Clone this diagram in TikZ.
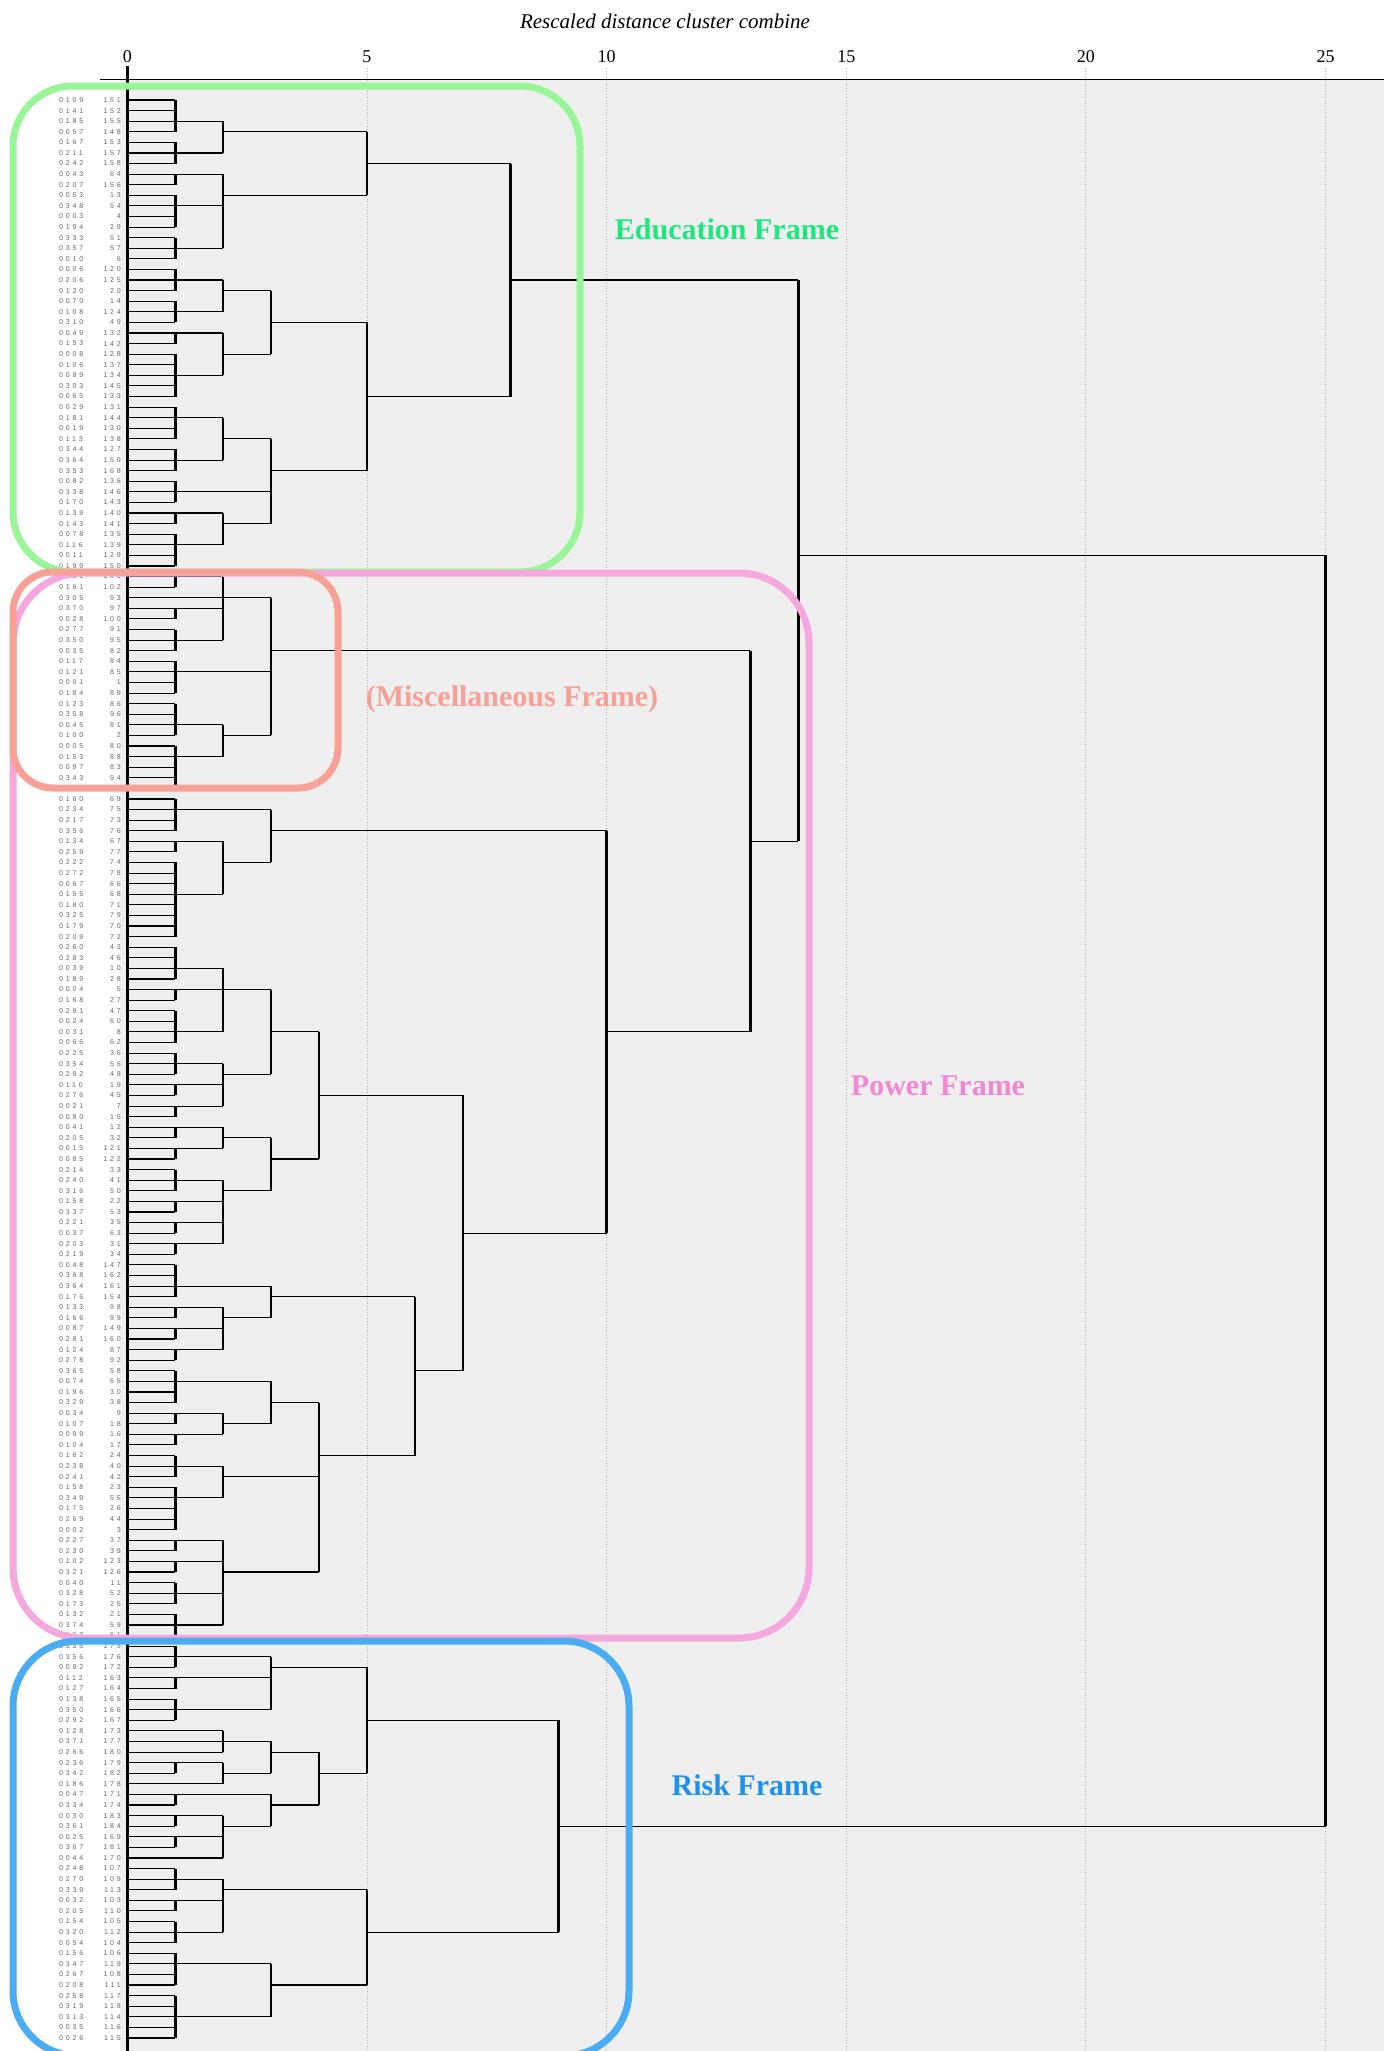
\documentclass[tikz,border=0pt]{standalone}
\usepackage{fontspec}
\setmainfont{Liberation Serif}
\newfontfamily\leaffont[LetterSpace=40]{Liberation Sans}
\definecolor{bgcol}{RGB}{239,239,239}
\definecolor{edgreen}{RGB}{152,245,152}
\definecolor{edtext}{RGB}{30,232,125}
\definecolor{misccol}{RGB}{247,160,150}
\definecolor{powcol}{RGB}{245,168,222}
\definecolor{powtext}{RGB}{243,135,213}
\definecolor{riskcol}{RGB}{74,172,242}
\definecolor{risktext}{RGB}{30,144,240}
\newcommand\dgGroup[3]{%
  \foreach \rr in {#1,...,#2}{\draw[hl] ({X(0)},{Y(\rr)}) -- ({X(#3)},{Y(\rr)});}
  \draw[vl] ({X(#3)},{Y(#1)}) -- ({X(#3)},{Y(#2)});}
\newcommand\dgBar[3]{\draw[vl] ({X(#1)},{Y(#2)}) -- ({X(#1)},{Y(#3)});}
\newcommand\dgLine[3]{\draw[hl] ({X(#2)},{Y(#1)}) -- ({X(#3)},{Y(#1)});}
\begin{document}
\begin{tikzpicture}[x=1pt,y=-1pt,
  declare function={X(\d)=127.3+47.93*\d; Y(\r)=100+(\r-1)*10.59;},
  hl/.style={line width=1.1pt, black},
  vl/.style={line width=2.6pt, black},
  lbl/.style={font=\leaffont\fontsize{7}{8}\selectfont, text=black!60, inner sep=0pt},
  axnum/.style={font=\fontsize{18}{20}\selectfont, inner sep=0pt},
  gridl/.style={black!30, line width=0.9pt, dotted},
  frame/.style={line width=7pt, rounded corners=#1},
  ftxt/.style={font=\fontsize{30}{32}\selectfont\bfseries, inner sep=0pt},
]
\useasboundingbox (0,0) rectangle (1391,2051);
\fill[white] (0,0) rectangle (1391,2051);
\fill[bgcol] (120,79) rectangle (1384,2051);
% title and axis
\node[font=\fontsize{21}{23}\selectfont\itshape, inner sep=0pt] (title) at (665,21) {Rescaled distance cluster combine};
\foreach \k in {5,10,15,20,25}{\draw[gridl] ({X(\k)},68) -- ({X(\k)},2051);}
\foreach \k in {0,5,10,15,20,25}{\node[axnum] (tick\k) at ({X(\k)},57) {\k};}
\draw[line width=1pt] (100,79) -- (1384,79);
\draw[line width=3pt] ({X(0)},66) -- ({X(0)},2051);
% leaves
\foreach \r/\c/\n in {1/0109/151,2/0141/152,3/0185/155,4/0057/148,5/0167/153,6/0211/157,7/0242/158,8/0043/64,9/0207/156,10/0053/13,
11/0348/54,12/0003/4,13/0194/29,14/0333/51,15/0357/57,16/0010/6,17/0006/120,18/0206/125,19/0120/20,20/0070/14,
21/0108/124,22/0310/49,23/0049/132,24/0153/142,25/0008/128,26/0106/137,27/0089/134,28/0303/145,29/0065/133,30/0029/131,
31/0181/144,32/0019/130,33/0113/138,34/0344/127,35/0364/159,36/0353/168,37/0082/136,38/0338/146,39/0170/143,40/0139/140,
41/0143/141,42/0078/135,43/0116/139,44/0011/129,45/0199/150,46/0131/101,47/0161/102,48/0305/93,49/0370/97,50/0028/100,
51/0277/91,52/0350/95,53/0035/82,54/0117/84,55/0121/85,56/0001/1,57/0184/89,58/0123/86,59/0358/96,60/0045/81,
61/0100/2,62/0005/80,63/0153/88,64/0097/83,65/0343/94,66/0239/90,67/0160/69,68/0234/75,69/0217/73,70/0356/76,
71/0134/67,72/0259/77,73/0222/74,74/0272/78,75/0067/66,76/0155/68,77/0180/71,78/0325/79,79/0179/70,80/0209/72,
81/0260/43,82/0283/46,83/0039/10,84/0189/28,85/0004/5,86/0168/27,87/0291/47,88/0024/60,89/0031/8,90/0066/62,
91/0225/36,92/0354/56,93/0292/48,94/0110/19,95/0276/45,96/0021/7,97/0080/15,98/0041/12,99/0205/32,100/0015/121,
101/0085/122,102/0214/33,103/0240/41,104/0316/50,105/0158/22,106/0337/53,107/0221/35,108/0037/63,109/0203/31,110/0219/34,
111/0048/147,112/0368/162,113/0364/161,114/0176/154,115/0133/98,116/0166/99,117/0087/149,118/0281/160,119/0124/87,120/0278/92,
121/0365/58,122/0074/65,123/0196/30,124/0329/38,125/0034/9,126/0107/18,127/0099/16,128/0104/17,129/0162/24,130/0238/40,
131/0241/42,132/0158/23,133/0349/55,134/0175/26,135/0269/44,136/0002/3,137/0227/37,138/0230/39,139/0102/123,140/0321/126,
141/0040/11,142/0328/52,143/0173/25,144/0132/21,145/0374/59,146/0163/61,147/0335/175,148/0356/176,149/0092/172,150/0112/163,
151/0127/164,152/0138/165,153/0350/166,154/0292/167,155/0128/173,156/0371/177,157/0266/180,158/0236/179,159/0342/182,160/0186/178,
161/0047/171,162/0334/174,163/0030/183,164/0361/184,165/0025/169,166/0367/181,167/0044/170,168/0248/107,169/0270/109,170/0339/113,
171/0032/103,172/0205/110,173/0154/105,174/0320/112,175/0054/104,176/0156/106,177/0347/119,178/0267/108,179/0208/111,180/0258/117,
181/0319/118,182/0313/114,183/0035/116,184/0026/115}{
  \coordinate (leaf\r) at ({X(0)},{Y(\r)});
  \node[lbl,anchor=west] (case\r) at (59,{Y(\r)}) {\c};
  \node[lbl,anchor=east] (num\r) at (121,{Y(\r)}) {\n};
}
% ---- Education
\dgGroup{1}{4}{1}\dgLine{3}{1}{2}
\dgGroup{5}{7}{1}\dgLine{6}{1}{2}
\dgBar{2}{3}{6}\dgLine{4}{2}{5}
\dgGroup{8}{9}{1}\dgLine{8}{1}{2}
\dgGroup{10}{13}{1}\dgLine{11}{1}{2}
\dgGroup{14}{16}{1}\dgLine{15}{1}{2}
\dgBar{2}{8}{15}\dgLine{10}{2}{5}
\dgBar{5}{4}{10}\dgLine{7}{5}{8}
\dgGroup{17}{19}{1}\dgLine{18}{1}{2}
\dgGroup{20}{22}{1}\dgLine{21}{1}{2}
\dgBar{2}{18}{21}\dgLine{19}{2}{3}
\dgGroup{23}{24}{1}\dgLine{23}{1}{2}
\dgGroup{25}{29}{1}\dgLine{27}{1}{2}
\dgBar{2}{23}{27}\dgLine{25}{2}{3}
\dgBar{3}{19}{25}\dgLine{22}{3}{5}
\dgGroup{30}{33}{1}\dgLine{31}{1}{2}
\dgGroup{34}{36}{1}\dgLine{35}{1}{2}
\dgBar{2}{31}{35}\dgLine{33}{2}{3}
\dgGroup{37}{39}{1}\dgLine{38}{1}{3}
\dgGroup{40}{41}{1}\dgLine{40}{1}{2}
\dgGroup{42}{45}{1}\dgLine{43}{1}{2}
\dgBar{2}{40}{43}\dgLine{41}{2}{3}
\dgBar{3}{33}{41}\dgLine{36}{3}{5}
\dgBar{5}{22}{36}\dgLine{29}{5}{8}
\dgBar{8}{7}{29}\dgLine{18}{8}{14}
% ---- Miscellaneous
\dgGroup{46}{47}{1}\dgLine{46}{1}{2}
\dgLine{48}{0}{2}
\dgGroup{49}{50}{1}\dgLine{49}{1}{2}
\dgGroup{51}{53}{1}\dgLine{52}{1}{2}
\dgBar{2}{46}{52}\dgLine{48}{2}{3}
\dgGroup{54}{57}{1}\dgLine{55}{1}{3}
\dgGroup{58}{61}{1}\dgLine{60}{1}{2}
\dgGroup{62}{66}{1}\dgLine{63}{1}{2}
\dgBar{2}{60}{63}\dgLine{61}{2}{3}
\dgBar{3}{48}{61}\dgLine{53}{3}{13}
% ---- Power
\dgGroup{67}{70}{1}\dgLine{68}{1}{3}
\dgGroup{71}{72}{1}\dgLine{71}{1}{2}
\dgGroup{73}{80}{1}\dgLine{76}{1}{2}
\dgBar{2}{71}{76}\dgLine{73}{2}{3}
\dgBar{3}{68}{73}\dgLine{70}{3}{10}
\dgGroup{81}{84}{1}\dgLine{83}{1}{2}
\dgGroup{85}{86}{1}\dgLine{85}{1}{2}
\dgGroup{87}{90}{1}\dgLine{89}{1}{2}
\dgBar{2}{83}{89}\dgLine{85}{2}{3}
\dgGroup{91}{93}{1}\dgLine{92}{1}{2}
\dgGroup{94}{95}{1}\dgLine{94}{1}{2}
\dgGroup{96}{97}{1}\dgLine{96}{1}{2}
\dgBar{2}{92}{96}\dgLine{93}{2}{3}
\dgBar{3}{85}{93}\dgLine{89}{3}{4}
\dgGroup{98}{99}{1}\dgLine{98}{1}{2}
\dgGroup{100}{101}{1}\dgLine{100}{1}{2}
\dgBar{2}{98}{100}\dgLine{99}{2}{3}
\dgGroup{102}{104}{1}\dgLine{103}{1}{2}
\dgGroup{105}{106}{1}\dgLine{105}{1}{2}
\dgGroup{107}{108}{1}\dgLine{107}{1}{2}
\dgGroup{109}{110}{1}\dgLine{109}{1}{2}
\dgBar{2}{103}{109}\dgLine{104}{2}{3}
\dgBar{3}{99}{104}\dgLine{101}{3}{4}
\dgBar{4}{89}{101}\dgLine{95}{4}{7}
\dgGroup{111}{114}{1}\dgLine{113}{1}{3}
\dgGroup{115}{116}{1}\dgLine{115}{1}{2}
\dgGroup{117}{118}{1}\dgLine{117}{1}{2}
\dgGroup{119}{120}{1}\dgLine{119}{1}{2}
\dgBar{2}{115}{119}\dgLine{116}{2}{3}
\dgBar{3}{113}{116}\dgLine{114}{3}{6}
\dgGroup{121}{124}{1}\dgLine{122}{1}{3}
\dgGroup{125}{126}{1}\dgLine{125}{1}{2}
\dgGroup{127}{128}{1}\dgLine{127}{1}{2}
\dgBar{2}{125}{127}\dgLine{126}{2}{3}
\dgBar{3}{122}{126}\dgLine{124}{3}{4}
\dgGroup{129}{131}{1}\dgLine{130}{1}{2}
\dgGroup{132}{136}{1}\dgLine{133}{1}{2}
\dgBar{2}{130}{133}\dgLine{131}{2}{4}
\dgGroup{137}{138}{1}\dgLine{137}{1}{2}
\dgGroup{139}{140}{1}\dgLine{139}{1}{2}
\dgGroup{141}{143}{1}\dgLine{142}{1}{2}
\dgGroup{144}{146}{1}\dgLine{145}{1}{2}
\dgBar{2}{137}{145}\dgLine{140}{2}{4}
\dgBar{4}{124}{140}\dgLine{129}{4}{6}
\dgBar{6}{114}{129}\dgLine{121}{6}{7}
\dgBar{7}{95}{121}\dgLine{108}{7}{10}
\dgBar{10}{70}{108}\dgLine{89}{10}{13}
\dgBar{13}{53}{89}\dgLine{71}{13}{14}
\dgBar{14}{18}{71}\dgLine{44}{14}{25}
% ---- Risk
\dgGroup{147}{149}{1}\dgLine{148}{1}{3}
\dgGroup{150}{151}{1}\dgLine{150}{1}{3}
\dgGroup{152}{154}{1}\dgLine{153}{1}{3}
\dgBar{3}{148}{153}\dgLine{149}{3}{5}
\dgLine{155}{0}{2}\dgLine{156}{0}{2}\dgLine{157}{0}{2}
\dgBar{2}{155}{157}\dgLine{156}{2}{3}
\dgGroup{158}{159}{1}\dgLine{158}{1}{2}
\dgLine{160}{0}{2}
\dgBar{2}{158}{160}\dgLine{159}{2}{3}
\dgBar{3}{156}{159}\dgLine{157}{3}{4}
\dgGroup{161}{162}{1}\dgLine{161}{1}{3}
\dgGroup{163}{164}{1}\dgLine{163}{1}{2}
\dgGroup{165}{166}{1}\dgLine{165}{1}{2}
\dgLine{167}{0}{2}
\dgBar{2}{163}{167}\dgLine{164}{2}{3}
\dgBar{3}{161}{164}\dgLine{162}{3}{4}
\dgBar{4}{157}{162}\dgLine{159}{4}{5}
\dgBar{5}{149}{159}\dgLine{154}{5}{9}
\dgGroup{168}{170}{1}\dgLine{169}{1}{2}
\dgGroup{171}{172}{1}\dgLine{171}{1}{2}
\dgGroup{173}{175}{1}\dgLine{174}{1}{2}
\dgBar{2}{169}{174}\dgLine{170}{2}{5}
\dgGroup{176}{179}{1}\dgLine{177}{1}{3}
\dgGroup{180}{184}{1}\dgLine{182}{1}{3}
\dgBar{3}{177}{182}\dgLine{179}{3}{5}
\dgBar{5}{170}{179}\dgLine{174}{5}{9}
\dgBar{9}{154}{174}\dgLine{164}{9}{25}
\dgBar{25}{44}{164}
% ---- frames
\draw[frame=60, draw=edgreen] (13,86) rectangle (580,572);
\draw[frame=70, draw=powcol] (13,573) rectangle (809,1638);
\draw[frame=40, draw=misccol] (13,572) rectangle (338,788);
\draw[frame=65, draw=riskcol] (13,1641) rectangle (629,2056);
\node[ftxt, text=edtext] (edlabel) at (727,229) {Education Frame};
\node[ftxt, text=misccol] (misclabel) at (512,699) {(Miscellaneous Frame)};
\node[ftxt, text=powtext] (powlabel) at (938,1086) {Power Frame};
\node[ftxt, text=risktext] (risklabel) at (747,1785) {Risk Frame};
\end{tikzpicture}
\end{document}
